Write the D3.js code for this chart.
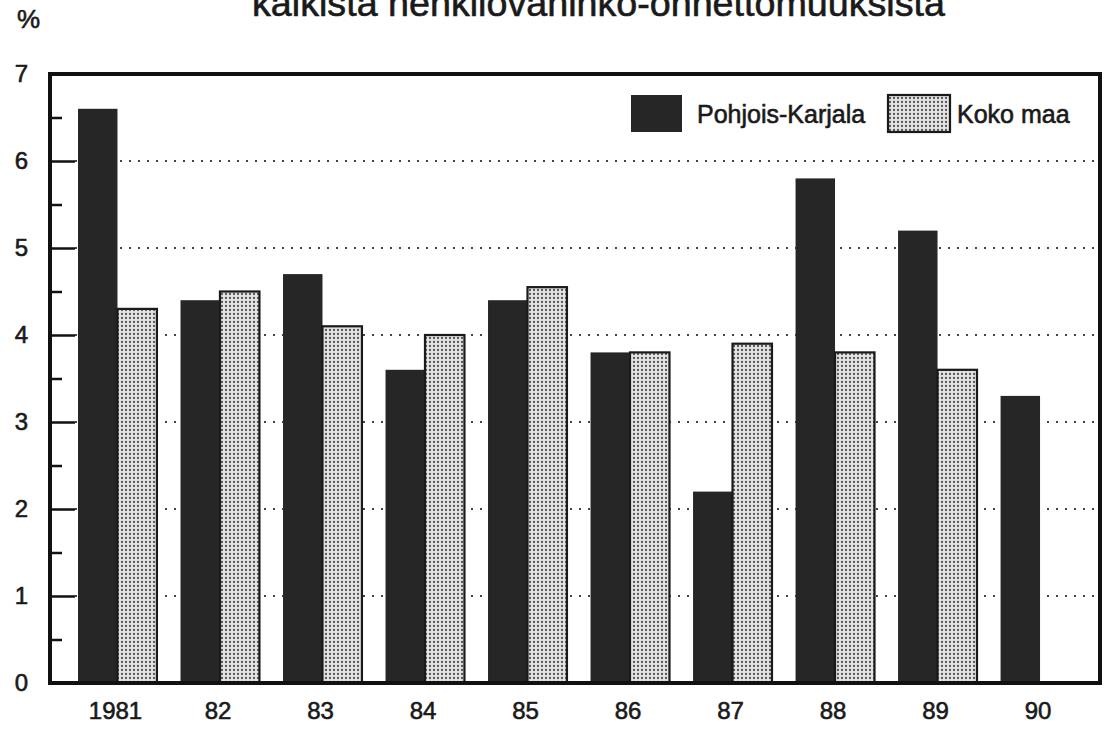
<!DOCTYPE html>
<html><head><meta charset="utf-8">
<script src="https://cdn.jsdelivr.net/npm/d3@7/dist/d3.min.js"></script>
<style>
html,body{margin:0;padding:0;background:#fff;}
svg{display:block;font-family:"Liberation Sans",Arial,Helvetica,sans-serif;}
.t{fill:#1a1a1a;stroke:#1a1a1a;stroke-width:0.6px;}
</style></head>
<body><svg id="chart" width="1106" height="733"></svg>
<script>
const title = "kaikista henkilövahinko-onnettomuuksista";
const years = ["1981","82","83","84","85","86","87","88","89","90"];
const seriesNames = ["Pohjois-Karjala","Koko maa"];
const pohjoisKarjala = [6.6, 4.4, 4.7, 3.6, 4.4, 3.8, 2.2, 5.8, 5.2, 3.3];
const kokoMaa = [4.3, 4.5, 4.1, 4.0, 4.55, 3.8, 3.9, 3.8, 3.6, null];
const yTicks = [0,1,2,3,4,5,6,7];
const yMinorTicks = [0.5,1.5,2.5,3.5,4.5,5.5,6.5];

const svg = d3.select("#chart");
const frame = {left: 50, right: 1100, top: 74, bottom: 683};

const defs = svg.append("defs");
const pat = defs.append("pattern").attr("id","dots").attr("patternUnits","userSpaceOnUse")
  .attr("width",4).attr("height",4);
pat.append("rect").attr("width",4).attr("height",4).attr("fill","#e4e4e4");
pat.append("circle").attr("cx",2).attr("cy",2).attr("r",1.15).attr("fill","#555");

const x0 = d3.scaleBand().domain(years).range([78, 1079.5]).paddingInner(0.23).paddingOuter(0);
const x1 = d3.scaleBand().domain(seriesNames).range([0, x0.bandwidth()]).padding(0);
const y = d3.scaleLinear().domain([0,7]).range([frame.bottom, frame.top]);

// gridlines (dotted)
svg.append("g").selectAll("line").data(yTicks.filter(d=>d>0 && d<7)).join("line")
  .attr("x1", frame.left+25).attr("x2", frame.right-2)
  .attr("y1", d=>y(d)).attr("y2", d=>y(d))
  .attr("stroke","#444").attr("stroke-width",2).attr("stroke-dasharray","2,7");

// bars
const data = years.map((yr,i)=>({yr, vals:[pohjoisKarjala[i], kokoMaa[i]]}));
const g = svg.append("g");
data.forEach(d=>{
  d.vals.forEach((v,j)=>{
    if (v==null) return;
    const r = g.append("rect")
      .attr("x", x0(d.yr)+x1(seriesNames[j]))
      .attr("y", y(v))
      .attr("width", x1.bandwidth())
      .attr("height", y(0)-y(v));
    if (j===0) r.attr("fill","#262626");
    else r.attr("fill","url(#dots)").attr("stroke","#1a1a1a").attr("stroke-width",2.2);
  });
});

// frame
svg.append("rect").attr("x",frame.left).attr("y",frame.top)
  .attr("width",frame.right-frame.left).attr("height",frame.bottom-frame.top)
  .attr("fill","none").attr("stroke","#111").attr("stroke-width",4);

// y axis ticks inside frame
const yAxis = d3.axisRight(y).tickValues(yTicks.filter(d=>d>0&&d<7)).tickSize(25).tickFormat("");
const ya = svg.append("g").attr("transform",`translate(${frame.left},0)`).call(yAxis);
ya.select(".domain").remove();
ya.selectAll("line").attr("stroke","#111").attr("stroke-width",2.5);
const yMinor = d3.axisRight(y).tickValues(yMinorTicks).tickSize(12).tickFormat("");
const ym = svg.append("g").attr("transform",`translate(${frame.left},0)`).call(yMinor);
ym.select(".domain").remove();
ym.selectAll("line").attr("stroke","#111").attr("stroke-width",2.5);

// y labels
const yl = d3.axisLeft(y).tickValues(yTicks).tickSize(0).tickPadding(0).tickFormat(d3.format("d"));
const yla = svg.append("g").attr("transform",`translate(28,0)`).call(yl);
yla.select(".domain").remove();
yla.selectAll("text").attr("class","t").attr("font-size",24)
  .attr("font-family","Liberation Sans, Arial, sans-serif");

// x labels
const xl = d3.axisBottom(x0).tickSize(0).tickPadding(0);
const xla = svg.append("g").attr("transform",`translate(-2,${frame.bottom+19})`).call(xl);
xla.select(".domain").remove();
xla.selectAll("text").attr("class","t").attr("font-size",24)
  .attr("font-family","Liberation Sans, Arial, sans-serif");

// % label
svg.append("text").attr("class","t").attr("x",17).attr("y",28).attr("font-size",26).text("%");

// title (cut off at top, as in the source)
svg.append("text").attr("class","t").attr("x",252).attr("y",16).attr("font-size",36)
  .attr("textLength",693).attr("lengthAdjust","spacingAndGlyphs")
  .text(title);

// legend
const leg = svg.append("g");
const legItems = [
  {name: seriesNames[0], sx: 631, sw: 51, tx: 697},
  {name: seriesNames[1], sx: 888, sw: 62, tx: 957}
];
legItems.forEach((it,j)=>{
  const r = leg.append("rect").attr("x",it.sx).attr("y",95).attr("width",it.sw).attr("height",37);
  if (j===0) r.attr("fill","#262626");
  else r.attr("fill","url(#dots)").attr("stroke","#1a1a1a").attr("stroke-width",2.2);
  leg.append("text").attr("class","t").attr("x",it.tx).attr("y",123).attr("font-size",25).text(it.name);
});
</script>
</body></html>
